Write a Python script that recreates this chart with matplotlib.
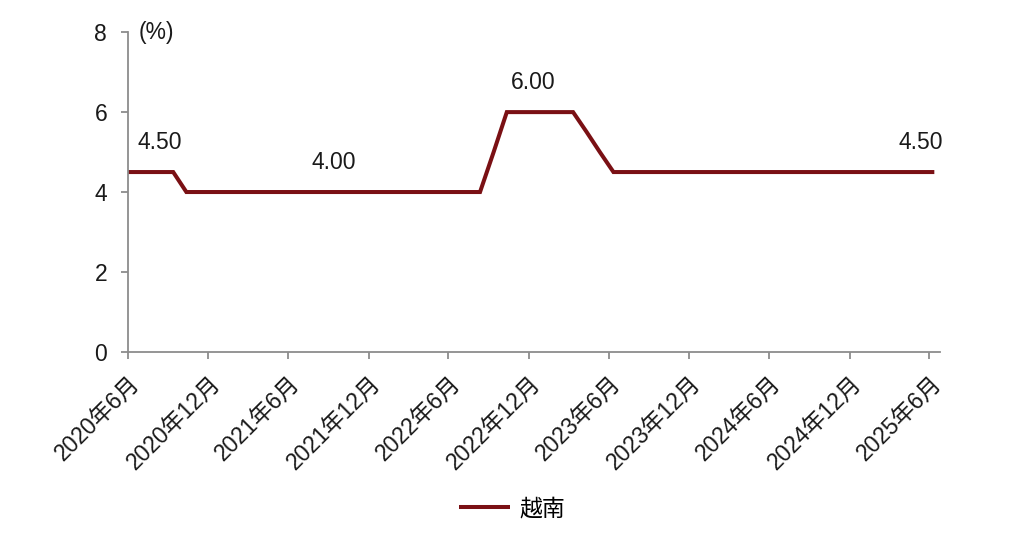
import matplotlib
matplotlib.use("Agg")
import matplotlib.pyplot as plt
import matplotlib.dates as mdates
import numpy as np
import datetime as dt

plt.rcParams['font.family'] = ['Liberation Sans', 'Noto Sans CJK SC', 'DejaVu Sans']

# Monthly observations (mid-month)
months = [dt.date(2020 + (4 + i) // 12, (4 + i) % 12 + 1, 12) for i in range(62)]  # 2020-05 .. 2025-06
values = ([4.5] * 5 +            # 2020-05 .. 2020-09
          [4.0] * 23 +           # 2020-10 .. 2022-08
          [5.0] +                # 2022-09
          [6.0] * 6 +            # 2022-10 .. 2023-03
          [5.5, 5.0] +           # 2023-04, 2023-05
          [4.5] * 25)            # 2023-06 .. 2025-06
series_name = "越南"
tick_dates = [dt.date(2020 + (5 + 6 * k) // 12, (5 + 6 * k) % 12 + 1, 1) for k in range(11)]
tick_labels = [f"{d.year}年{d.month}月" for d in tick_dates]
label_dates = [dt.date(2020, 8, 12), dt.date(2021, 9, 12), dt.date(2022, 12, 12), dt.date(2025, 5, 12)]

color = "#7a1014"
axis_color = "#8c8c8c"
text_color = "#1a1a1a"
fs = 16.5

fig = plt.figure(figsize=(10.24, 5.55), dpi=100)
ax = fig.add_axes([0.125, 0.366, 0.793, 0.576])
ax.plot(months, values, color=color, lw=2.9, solid_joinstyle='miter', solid_capstyle='butt',
        label=series_name)

ax.set_xlim(dt.date(2020, 6, 1), dt.date(2025, 6, 25))
ax.set_ylim(0, 8)
ax.set_yticks([0, 2, 4, 6, 8])
ax.set_xticks([mdates.date2num(d) for d in tick_dates])
ax.set_xticklabels(tick_labels, rotation=45, ha='right', va='top', rotation_mode='anchor')

for s in ['top', 'right']:
    ax.spines[s].set_visible(False)
for s in ['left', 'bottom']:
    ax.spines[s].set_color(axis_color)
    ax.spines[s].set_linewidth(1.3)
ax.tick_params(axis='both', colors=axis_color, length=5, width=1.3, labelsize=fs, labelcolor=text_color)
ax.tick_params(axis='x', pad=9)
ax.tick_params(axis='y', pad=10)

for d in label_dates:
    v = values[months.index(d)]
    ax.annotate(f"{v:.2f}", xy=(d, v), xytext=(0, 21.5), textcoords='offset points',
                ha='center', va='center', fontsize=fs, color=text_color)

ax.text(0.013, 1.0, "(%)", transform=ax.transAxes, fontsize=fs, color=text_color, ha='left', va='center')

fig.legend(loc='lower center', bbox_to_anchor=(0.5, 0.025), frameon=False, fontsize=fs,
           handlelength=2.2, handletextpad=0.4)

fig.savefig("out.png", dpi=100, facecolor='white')
